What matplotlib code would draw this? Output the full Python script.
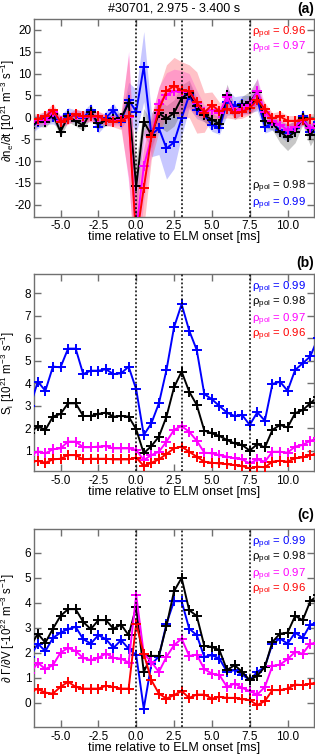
import numpy as np
import matplotlib
matplotlib.use("Agg")
import matplotlib.pyplot as plt

plt.rcParams['font.family'] = ['Liberation Sans', 'DejaVu Sans']
plt.rcParams['mathtext.fontset'] = 'custom'
plt.rcParams['mathtext.rm'] = 'Liberation Sans'
plt.rcParams['mathtext.it'] = 'Liberation Sans:italic'
plt.rcParams['mathtext.bf'] = 'Liberation Sans:bold'
plt.rcParams['axes.unicode_minus'] = False

# time grid relative to ELM onset [ms]
time = np.arange(-7.0, 12.01, 0.5)
elm_lines = [0.0, 3.0, 7.5]
xticks = [-5.0, -2.5, 0.0, 2.5, 5.0, 7.5, 10.0]
colors = {'0.96': '#ff0000', '0.97': '#ff00ff', '0.98': '#000000', '0.99': '#0000ff'}
band_colors = {'0.96': '#ff5060', '0.97': '#ff50ff', '0.98': '#606060', '0.99': '#6060ff'}

# ---- panel (a): dn_e/dt
dndt_099 = [-2.5, -1.0, -0.1, 0.0, -1.1, 0.7, 0.2, -0.1, 1.7, -2.1, -0.1, 1.7, -1.1, 4.0, 1.3,
            11.6, -4.0, -2.5, -7.1, -5.7, -0.2, 5.1, 1.7, 0.5, -1.7, -2.4, 3.5, 2.7, 3.0, 3.0,
            4.0, -2.1, -1.4, -2.9, -3.6, -2.5, 0.2, -3.3, -1.0]
dndt_098 = [-2.5, -0.8, -1.1, 0.7, -3.3, 0.2, -0.8, -1.9, 1.3, -1.4, -0.8, -0.4, -0.1, 3.2, -15.8,
            -1.0, -4.0, 0.9, -0.3, 1.0, 4.4, 5.5, 2.5, 0.5, -0.5, -1.5, 5.1, 1.0, 2.8, 3.4,
            5.8, -0.8, -1.4, -3.3, -4.6, -3.3, -0.2, -4.0, -2.0]
dndt_097 = [-1.0, -0.6, -0.6, 1.3, -0.8, -0.3, 0.6, 0.0, 0.2, 0.0, -0.7, -0.8, -0.7, 0.1, -26.0,
            -11.2, -4.6, 3.0, 5.2, 6.0, 5.7, 6.0, 3.2, 1.3, 1.7, 0.9, 4.7, 1.3, 1.9, 2.8,
            6.0, 1.3, -0.8, -1.7, -2.9, -2.1, -0.6, -2.5, -1.5]
dndt_096 = [-0.4, -0.4, 0.2, 1.7, -1.0, -0.4, 0.7, 0.2, 0.2, 0.2, -0.6, -1.0, -0.8, 0.2, -28.0,
            -16.2, -4.6, 1.7, 6.0, 7.2, 6.2, 6.0, 3.4, 1.1, 2.8, 1.4, 1.9, 1.1, 1.3, 2.1,
            4.0, 1.9, -0.2, 0.2, -0.8, -0.8, -0.6, -0.4, -0.3]
# half-widths of the uncertainty bands
err_099 = [1.5, 1.5, 1.5, 1.5, 1.5, 1.5, 1.5, 1.5, 1.5, 1.5, 1.5, 1.5, 1.5, 4.0, 5.0,
           8.0, 5.0, 6.0, 7.0, 6.0, 4.0, 3.0, 2.0, 1.5, 1.5, 1.5, 3.0, 2.0, 2.0, 2.0,
           2.5, 1.5, 1.5, 1.5, 2.0, 1.5, 1.5, 1.5, 1.5]
err_098 = [1.2, 1.2, 1.2, 1.2, 1.2, 1.2, 1.2, 1.2, 1.2, 1.2, 1.2, 1.2, 1.2, 3.0, 6.0,
           3.0, 3.0, 3.0, 3.0, 3.0, 3.0, 3.0, 2.0, 1.5, 1.5, 1.5, 2.5, 1.5, 2.0, 2.5,
           3.0, 1.5, 1.5, 2.5, 3.0, 2.5, 1.5, 2.5, 1.5]
err_097 = [1.2, 1.2, 1.2, 1.2, 1.2, 1.2, 1.2, 1.2, 1.2, 1.2, 1.2, 1.2, 1.2, 15.0, 10.0,
           8.0, 4.0, 4.0, 5.0, 5.0, 5.0, 4.0, 3.0, 1.5, 1.5, 1.5, 2.5, 1.5, 1.5, 2.0,
           3.0, 1.5, 1.2, 1.2, 1.2, 1.2, 1.2, 1.2, 1.2]
err_096 = [1.2, 1.2, 1.2, 1.5, 1.2, 1.2, 1.2, 1.2, 1.2, 1.2, 1.2, 1.2, 2.0, 14.0, 10.0,
           9.0, 5.0, 5.0, 6.0, 6.5, 6.5, 6.0, 7.0, 4.5, 3.0, 2.0, 2.0, 1.5, 1.5, 1.5,
           2.0, 1.5, 1.2, 1.2, 1.2, 1.2, 1.2, 1.2, 1.2]

# ---- panel (b): S_i
si_099 = [3.0, 4.07, 3.67, 4.74, 4.71, 5.54, 5.54, 4.41, 4.56, 4.56, 4.62, 4.41, 4.44, 4.74, 3.73,
          1.70, 2.22, 3.11, 4.59, 6.49, 7.51, 6.34, 5.48, 3.52, 3.29, 2.99, 2.70, 2.55, 2.59, 2.15,
          2.71, 2.34, 3.97, 4.07, 3.67, 4.59, 4.89, 5.19, 6.0]
si_098 = [1.8, 2.1, 1.93, 2.52, 2.64, 3.11, 3.11, 2.55, 2.55, 2.64, 2.70, 2.52, 2.55, 2.52, 1.96,
          0.89, 1.21, 1.63, 2.52, 3.82, 4.52, 3.63, 3.04, 1.90, 1.78, 1.66, 1.48, 1.33, 1.26, 1.01,
          1.30, 1.15, 1.93, 2.15, 2.04, 2.67, 2.81, 3.11, 3.4]
si_097 = [0.82, 0.96, 0.89, 1.07, 1.11, 1.41, 1.41, 1.16, 1.16, 1.19, 1.21, 1.11, 1.11, 1.11, 1.04,
          0.59, 0.81, 0.96, 1.41, 1.93, 2.10, 1.85, 1.45, 0.92, 0.89, 0.81, 0.74, 0.67, 0.62, 0.44,
          0.62, 0.52, 0.96, 0.96, 0.92, 1.19, 1.26, 1.45, 1.55]
si_096 = [0.5, 0.56, 0.47, 0.62, 0.65, 0.81, 0.81, 0.62, 0.65, 0.65, 0.65, 0.62, 0.62, 0.62, 0.70,
          0.33, 0.47, 0.62, 0.86, 1.11, 1.19, 0.96, 0.74, 0.52, 0.47, 0.44, 0.41, 0.37, 0.33, 0.22,
          0.30, 0.27, 0.52, 0.56, 0.52, 0.67, 0.71, 0.81, 0.88]

# ---- panel (c): dGamma/dV
dg_099 = [1.85, 2.37, 2.07, 2.60, 2.81, 2.95, 3.04, 2.55, 2.37, 2.71, 2.55, 2.20, 2.51, 2.17, 1.91,
          -0.23, 1.55, 1.85, 3.17, 4.07, 4.07, 2.97, 2.71, 1.84, 1.91, 1.77, 1.24, 1.31, 1.13, 0.91,
          1.24, 1.44, 2.37, 2.57, 2.37, 2.81, 2.60, 3.13, 3.2]
dg_098 = [2.25, 2.77, 2.41, 2.97, 3.48, 3.75, 3.75, 3.24, 2.95, 3.31, 3.31, 2.97, 3.13, 2.71, 3.84,
          1.24, 1.88, 1.88, 3.08, 4.47, 5.0, 3.71, 3.48, 2.28, 2.24, 2.11, 1.31, 1.51, 1.24, 0.91,
          1.08, 1.44, 2.44, 2.77, 2.81, 3.48, 3.31, 4.07, 4.3]
dg_097 = [1.2, 1.61, 1.35, 1.51, 2.01, 2.20, 2.07, 1.80, 1.71, 1.80, 1.97, 1.80, 1.77, 1.61, 4.31,
          1.97, 1.64, 1.24, 1.84, 2.31, 2.57, 1.88, 1.93, 1.35, 1.17, 1.11, 0.64, 0.77, 0.60, 0.47,
          0.33, 0.64, 1.48, 1.53, 1.75, 2.04, 1.97, 2.37, 2.4]
dg_096 = [0.47, 0.55, 0.41, 0.37, 0.64, 0.84, 0.64, 0.57, 0.57, 0.57, 0.68, 0.64, 0.57, 0.57, 3.17,
          1.97, 0.91, 0.37, 0.17, 0.31, 0.47, 0.20, 0.33, 0.33, 0.17, 0.24, 0.20, 0.20, 0.15, 0.11,
          -0.09, 0.07, 0.51, 0.51, 0.57, 0.73, 0.71, 0.77, 0.8]

fig = plt.figure(figsize=(3.15, 7.55), dpi=100)
L, W = 0.108, 0.889
ax_a = fig.add_axes([L, 0.713, W, 0.262])
ax_b = fig.add_axes([L, 0.376, W, 0.261])
ax_c = fig.add_axes([L, 0.037, W, 0.262])

spine_col = '#707070'
FS = 8.5

def style(ax, ylim, yticks, ylabel, label_y=0.5):
    ax.set_xlim(-6.75, 11.75)
    ax.set_ylim(*ylim)
    ax.set_xticks(xticks)
    ax.set_xticklabels(['%.1f' % t for t in xticks])
    ax.set_yticks(yticks)
    ax.set_yticklabels([str(v) for v in yticks])
    ax.tick_params(direction='in', top=True, right=True, length=5, width=1,
                   color=spine_col, labelsize=FS)
    ax.tick_params(axis='x', pad=2.5)
    ax.tick_params(axis='y', pad=2)
    for s in ax.spines.values():
        s.set_color(spine_col)
        s.set_linewidth(1.0)
    for xv in elm_lines:
        ax.axvline(xv, color='black', linestyle=(0, (1.2, 1.4)), lw=1.1, zorder=5)
    ax.set_xlabel('time relative to ELM onset [ms]', fontsize=9, labelpad=-0.5)
    ax.set_ylabel(ylabel, fontsize=8.3)
    ax.yaxis.set_label_coords(-0.06, label_y)

def plot_series(ax, series, bands=None):
    order = ['0.99', '0.98', '0.97', '0.96']
    if bands is not None:
        for k in order:
            y = np.array(series[k]); e = np.array(bands[k])
            ax.fill_between(time, y - e, y + e, color=band_colors[k], alpha=0.35, lw=0, zorder=1)
    for k in order:
        ax.plot(time, series[k], color=colors[k], lw=1.4, marker='+', ms=7, mew=1.4, zorder=3)

def rho_text(ax, k, y):
    ax.text(0.972, y, 'ρ$_\\mathrm{pol}$ = ' + k, color=colors[k], transform=ax.transAxes,
            ha='right', va='center', fontsize=8.2, zorder=10)

# panel a
plot_series(ax_a, {'0.99': dndt_099, '0.98': dndt_098, '0.97': dndt_097, '0.96': dndt_096},
            {'0.99': err_099, '0.98': err_098, '0.97': err_097, '0.96': err_096})
style(ax_a, (-22.7, 22.5), [-20, -15, -10, -5, 0, 5, 10, 15, 20],
      '∂n$_\\mathrm{e}$/∂t [10$^{21}$ m$^{-3}$ s$^{-1}$]', label_y=0.535)
ax_a.set_title('#30701, 2.975 - 3.400 s', fontsize=9, pad=5)
ax_a.text(1.0, 1 + 10 / 197.7, '(a)', transform=ax_a.transAxes, ha='right', va='center',
          fontsize=10, fontweight='bold')
rho_text(ax_a, '0.96', 0.929)
rho_text(ax_a, '0.97', 0.853)
rho_text(ax_a, '0.98', 0.150)
rho_text(ax_a, '0.99', 0.064)

# panel b
plot_series(ax_b, {'0.99': si_099, '0.98': si_098, '0.97': si_097, '0.96': si_096})
style(ax_b, (0.1, 8.85), [1, 2, 3, 4, 5, 6, 7, 8], 'S$_\\mathrm{i}$ [10$^{21}$ m$^{-3}$ s$^{-1}$]')
ax_b.text(1.0, 1 + 11 / 197.0, '(b)', transform=ax_b.transAxes, ha='right', va='center',
          fontsize=10, fontweight='bold')
for k, y in zip(['0.99', '0.98', '0.97', '0.96'], [0.930, 0.853, 0.766, 0.690]):
    rho_text(ax_b, k, y)

# panel c
plot_series(ax_c, {'0.99': dg_099, '0.98': dg_098, '0.97': dg_097, '0.96': dg_096})
style(ax_c, (-0.97, 6.95), [0, 1, 2, 3, 4, 5, 6],
      '∂ Γ/∂V [-10$^{22}$ m$^{-3}$ s$^{-1}$]')
ax_c.text(1.0, 1 + 14 / 198.0, '(c)', transform=ax_c.transAxes, ha='right', va='center',
          fontsize=10, fontweight='bold')
for k, y in zip(['0.99', '0.98', '0.97', '0.96'], [0.929, 0.854, 0.768, 0.692]):
    rho_text(ax_c, k, y)

fig.savefig('out.png', dpi=100)
